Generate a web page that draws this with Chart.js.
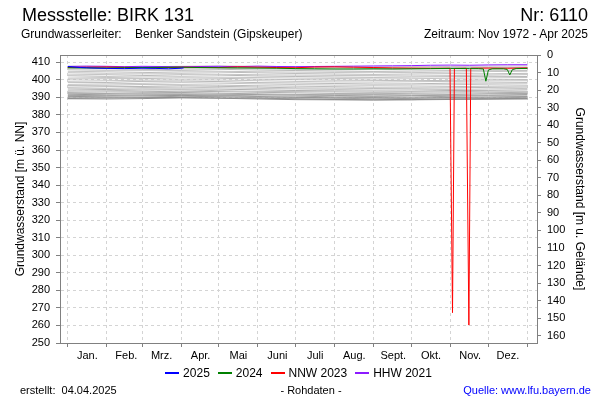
<!DOCTYPE html>
<html><head><meta charset="utf-8">
<script src="https://cdn.jsdelivr.net/npm/chart.js@4.4.1/dist/chart.umd.min.js"></script>
<style>
html,body{margin:0;padding:0;background:#fff;}
#wrap{position:relative;width:600px;height:400px;overflow:hidden;font-family:'Liberation Sans',Arial,sans-serif;color:#000;}
#c{position:absolute;left:0;top:0;}
.t{position:absolute;white-space:pre;}
.lg{display:inline-block;width:14px;height:2px;vertical-align:middle;margin-right:4px;position:relative;top:-1px;}
.li{margin-right:8px;}
</style></head><body>
<div id="wrap">
<canvas id="c" width="600" height="400"></canvas>
<div class="t" style="left:22px;top:5.5px;font-size:18px;line-height:18px;">Messstelle: BIRK 131</div>
<div class="t" style="right:12px;top:5.5px;font-size:18px;line-height:18px;">Nr: 6110</div>
<div class="t" style="left:21px;top:28px;font-size:12px;line-height:12px;">Grundwasserleiter:    Benker Sandstein (Gipskeuper)</div>
<div class="t" style="right:12px;top:28px;font-size:12px;line-height:12px;">Zeitraum: Nov 1972 - Apr 2025</div>
<div class="t" id="legend" style="left:0;width:597px;text-align:center;top:367px;font-size:12px;line-height:12px;"></div>
<div class="t" style="left:20px;top:385px;font-size:11px;line-height:11px;">erstellt:  04.04.2025</div>
<div class="t" style="left:0;width:622px;text-align:center;top:385px;font-size:11px;line-height:11px;">- Rohdaten -</div>
<div class="t" style="right:9px;top:385px;font-size:11px;line-height:11px;color:#0000ff;">Quelle: www.lfu.bayern.de</div>
</div>
<script>
// ---- axis / tick data ----
const monthStarts = [0,31,59,90,120,151,181,212,243,273,304,334,365];
const monthLabels = ['Jan.','Feb.','Mrz.','Apr.','Mai','Juni','Juli','Aug.','Sept.','Okt.','Nov.','Dez.',''];
const leftTicks = [250,260,270,280,290,300,310,320,330,340,350,360,370,380,390,400,410];
const rightTicks = [0,10,20,30,40,50,60,70,80,90,100,110,120,130,140,150,160];

// ---- highlighted years ----
const y2025Days = [0,10,20,31,45,59,70,80,90,92];
const y2025 = [407.6,407.0,406.7,406.5,406.4,406.6,406.5,406.3,406.6,406.8];

const y2024Days = [0,15,31,45,59,74,90,105,120,135,151,166,181,196,212,227,243,258,273,288,304,319,326,330,332,334,337,346,349,351,353,356,365];
const y2024 = [406.9,406.8,406.7,406.9,407.0,407.1,407.2,407.0,406.9,406.8,406.7,406.6,406.4,406.3,406.2,406.2,406.3,406.2,406.3,406.4,406.5,406.4,406.4,406.2,399.2,405.6,406.3,406.3,405.9,402.8,405.8,406.4,406.5];

const nnw2023Days = [0,15,31,45,59,74,90,105,120,135,151,166,181,196,212,227,243,258,273,288,303.5,305.5,307,316.5,318.5,320,334,349,365];
const nnw2023 = [407.0,407.2,407.3,407.1,407.0,406.9,407.2,407.1,407.0,407.4,407.2,407.0,406.9,407.3,407.4,407.2,407.0,406.8,406.7,406.6,406.6,267.3,406.5,406.6,260.2,406.6,406.7,406.6,406.8];

const hhw2021Days = [0,15,31,45,59,74,90,105,120,135,151,166,181,196,212,227,243,258,273,288,304,319,334,349,365];
const hhw2021 = [407.6,407.8,407.7,407.5,407.7,407.6,407.4,407.6,407.7,407.5,407.8,407.6,407.5,407.6,407.7,407.8,407.9,408.0,408.1,408.3,408.4,408.3,408.5,408.6,408.6];

// ---- other years (grey), monthly values ----
const g01 = [407.8,407.6,407.5,407.7,407.9,407.7,407.5,407.4,407.3,407.5,407.6,407.8,407.9];
const g02 = [407.2,407.0,407.3,407.5,407.3,407.0,406.8,406.9,406.7,406.6,406.9,407.1,407.0];
const g03 = [406.4,406.7,406.9,406.8,406.5,406.3,406.0,405.8,405.9,406.1,406.3,406.2,406.5];
const g04 = [405.7,405.5,405.8,406.2,406.0,405.6,405.3,405.0,404.8,405.0,405.2,405.5,405.4];
const g05 = [404.6,404.9,405.2,405.3,404.9,404.6,404.4,404.2,404.3,404.1,404.4,404.7,404.9];
const g06 = [404.0,403.8,404.1,404.5,404.4,404.0,403.6,403.3,403.1,403.3,403.5,403.4,403.7];
const g07 = [402.8,403.1,403.4,403.5,403.2,402.9,402.7,402.5,402.4,402.2,402.4,402.7,403.0];
const g08 = [402.3,402.0,402.4,402.9,402.7,402.2,401.9,401.6,401.4,401.6,401.8,402.0,401.9];
const g09 = [401.0,401.3,401.6,401.8,401.5,401.3,401.0,400.8,400.5,400.6,400.9,401.1,401.3];
const g10 = [400.4,400.6,400.7,401.1,400.9,400.4,400.1,399.8,399.7,399.5,399.7,400.0,400.2];
const g11 = [399.2,399.5,399.8,400.0,399.9,399.5,399.1,398.8,398.7,398.9,399.1,399.3,399.5];
const g12 = [398.6,398.5,399.1,399.3,399.0,398.4,398.2,397.9,397.6,397.7,398.1,398.2,398.4];
const g13 = [397.4,397.7,398.0,398.4,398.1,397.7,397.3,397.0,396.9,397.0,397.2,397.5,397.7];
const g14 = [396.8,396.9,397.3,397.2,397.0,396.6,396.4,396.1,395.8,395.9,396.1,396.4,396.6];
const g15 = [395.8,396.1,396.2,396.6,396.3,395.9,395.4,395.3,395.1,395.2,395.4,395.7,395.9];
const g16 = [395.2,395.1,395.6,395.8,395.5,395.1,394.8,394.5,394.2,394.3,394.5,394.8,395.1];
const g17 = [394.2,394.5,394.8,394.8,394.7,394.3,393.9,393.7,393.6,393.5,393.9,394.0,394.3];
const g18 = [393.5,393.8,394.1,394.3,393.8,393.4,393.3,393.1,392.8,393.0,393.2,393.5,393.4];
const g19 = [392.8,393.1,393.2,393.5,393.3,392.9,392.6,392.2,392.1,392.3,392.5,392.6,392.9];
const g20 = [392.3,392.2,392.6,392.8,392.4,392.0,391.7,391.5,391.6,391.4,391.6,392.1,392.2];
const g21 = [391.5,391.8,392.0,392.0,391.8,391.6,391.3,391.1,390.8,391.0,391.2,391.3,391.6];
const g22 = [391.1,391.0,391.4,391.6,391.2,390.8,390.7,390.3,390.4,390.2,390.6,390.9,390.8];
const g23 = [390.4,390.7,390.9,391.1,390.9,390.5,390.0,389.8,389.9,389.7,389.9,390.2,390.5];
const g24 = [390.1,390.0,390.2,390.6,390.4,389.8,389.7,389.5,389.2,389.4,389.6,389.7,390.0];
const g25 = [389.4,389.7,389.9,389.9,389.7,389.5,389.2,388.8,388.9,388.7,389.1,389.4,389.3];
const g26 = [389.2,389.1,389.3,389.7,389.5,389.1,388.7,388.6,388.4,388.6,388.8,388.9,389.1];
const greySeries = [g01,g02,g03,g04,g05,g06,g07,g08,g09,g10,g11,g12,g13,g14,g15,g16,g17,g18,g19,g20,g21,g22,g23,g24,g25,g26];
const greyColors = ['#c4c4c4','#bdbdbd','#c4c4c4','#b8b8b8','#c4c4c4','#bdbdbd','#c4c4c4','#b8b8b8','#c4c4c4','#bdbdbd','#c4c4c4','#b8b8b8','#c4c4c4','#bdbdbd','#b8b8b8','#c4c4c4','#b0b0b0','#bdbdbd','#b0b0b0','#a8a8a8','#9c9c9c','#a4a4a4','#969696','#a0a0a0','#8c8c8c','#909090'];

const highlight = [
  {label:'2025', days:y2025Days, vals:y2025, color:'#0000ff'},
  {label:'2024', days:y2024Days, vals:y2024, color:'#008000'},
  {label:'NNW 2023', days:nnw2023Days, vals:nnw2023, color:'#ff0000'},
  {label:'HHW 2021', days:hhw2021Days, vals:hhw2021, color:'#8c1aff'}
];

const pts = (d, v) => d.map((x, i) => ({x: x, y: v[i]}));
const datasets = [];
highlight.forEach((h, i) => datasets.push({label:h.label, data:pts(h.days, h.vals), borderColor:h.color, backgroundColor:h.color, borderWidth:1, order:i}));
greySeries.forEach((g, i) => datasets.push({label:'', data:pts(monthStarts, g), borderColor:greyColors[i], borderWidth:1, order:10+i}));

// HTML legend built from the highlight list
document.getElementById('legend').innerHTML = highlight.map((h, i) =>
  '<span class="' + (i < highlight.length - 1 ? 'li' : '') + '"><span class="lg" style="background:' + h.color + '"></span>' + h.label + '</span>').join('');

const FONT = "'Liberation Sans', Arial, sans-serif";
const AX = '#808080', GRID = '#d4d4d4';

new Chart(document.getElementById('c'), {
  type: 'line',
  data: {datasets: datasets},
  options: {
    responsive: false, animation: false, devicePixelRatio: 1,
    layout: {padding: {top: 55, left: 0, right: 0, bottom: 0}},
    elements: {point: {radius: 0}, line: {tension: 0}},
    plugins: {legend: {display: false}, tooltip: {enabled: false}, title: {display: false}},
    scales: {
      x: {
        type: 'linear', position: 'bottom', min: -6.2, max: 372.6,
        afterFit: s => { s.height = 57; },
        afterBuildTicks: s => { s.ticks = monthStarts.map(v => ({value: v})); },
        grid: {color: GRID, tickColor: AX, tickLength: 4},
        border: {color: AX, dash: [3, 3]},
        ticks: {autoSkip: false, maxRotation: 0, minRotation: 0, labelOffset: 19.5, padding: 2, color: '#000',
                font: {family: FONT, size: 11}, callback: (v, i) => monthLabels[i]}
      },
      xTop: {
        type: 'linear', position: 'top', min: -6.2, max: 372.6, display: true,
        afterFit: s => { s.height = 0; },
        grid: {display: false}, ticks: {display: false},
        border: {color: AX}
      },
      y: {
        type: 'linear', position: 'left', min: 250, max: 414.15,
        afterFit: s => { s.width = 60; },
        afterBuildTicks: s => { s.ticks = leftTicks.map(v => ({value: v})); },
        grid: {color: GRID, tickColor: AX, tickLength: 4},
        border: {color: AX, dash: [3, 3]},
        ticks: {padding: 6, color: '#000', font: {family: FONT, size: 11}},
        title: {display: true, text: 'Grundwasserstand [m ü. NN]', color: '#000', font: {family: FONT, size: 12}, padding: {top: 13, bottom: 0}}
      },
      yR: {
        type: 'linear', position: 'right', min: 0, max: 164.15, reverse: true,
        afterFit: s => { s.width = 63; },
        afterBuildTicks: s => { s.ticks = rightTicks.map(v => ({value: v})); },
        grid: {drawOnChartArea: false, tickColor: AX, tickLength: 4},
        border: {color: AX},
        ticks: {padding: 6, color: '#000', font: {family: FONT, size: 11}},
        title: {display: true, text: 'Grundwasserstand [m u. Gelände]', color: '#000', font: {family: FONT, size: 12}, padding: {top: 13, bottom: 0}}
      }
    }
  }
});
</script>
</body></html>
